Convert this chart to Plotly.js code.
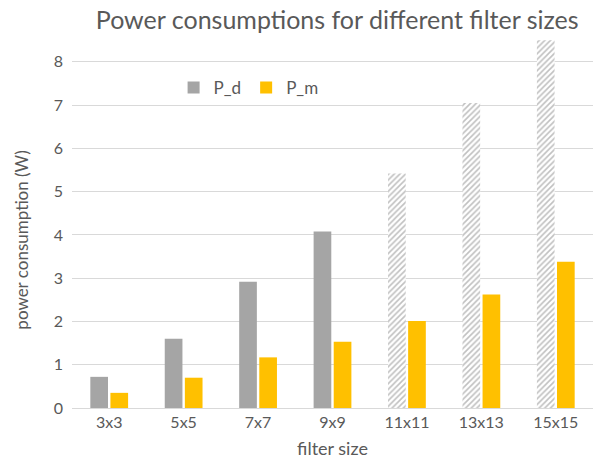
<!DOCTYPE html>
<html>
<head>
<meta charset="utf-8">
<script src="https://cdn.plot.ly/plotly-3.0.1.min.js"></script>
<style>html,body{margin:0;padding:0;background:#fff;}#chart{width:605px;height:460px;}</style>
</head>
<body>
<div id="chart"></div>
<script>
const categories = ["3x3", "5x5", "7x7", "9x9", "11x11", "13x13", "15x15"];
const P_d = [0.72, 1.6, 2.92, 4.08, 5.42, 7.05, 8.5];
const P_m = [0.35, 0.7, 1.17, 1.53, 2.01, 2.62, 3.38];
const P_d_estimated = [false, false, false, false, true, true, true];

const grey = "#a5a5a5";
const gold = "#ffc000";
const textColor = "#595959";
const font = "Lato, 'Open Sans', sans-serif";

const traces = [
  {
    type: "bar", name: "P_d", x: categories, y: P_d,
    marker: {
      color: grey,
      pattern: {
        shape: P_d_estimated.map(e => e ? "/" : ""),
        fgcolor: "#828282",
        bgcolor: "#ffffff",
        size: 4,
        solidity: 0.4,
        fillmode: "overlay"
      }
    }
  },
  { type: "bar", name: "P_m", x: categories, y: P_m, marker: { color: gold } }
];

const layout = {
  width: 605, height: 460,
  margin: { l: 72, r: 12, t: 38, b: 52 },
  paper_bgcolor: "#fff", plot_bgcolor: "#fff",
  font: { family: font, color: textColor, size: 14 },
  title: { text: "Power consumptions for different filter sizes", font: { family: font, size: 25, color: textColor }, x: 0.509, xanchor: "center", xref: "paper", yref: "container", y: 0.955, yanchor: "middle" },
  barmode: "group", bargap: 0.46, bargroupgap: 0.12,
  showlegend: true,
  legend: { orientation: "h", x: 0.195, y: 0.865, xanchor: "left", yanchor: "middle", bgcolor: "rgba(0,0,0,0)", font: { size: 17, color: textColor }, itemwidth: 30, tracegroupgap: 0 },
  xaxis: {
    type: "category", showgrid: false, showline: true, linecolor: "#d9d9d9", linewidth: 1, ticks: "",
    tickfont: { size: 16, color: textColor },
    title: { text: "filter size", font: { size: 18, color: textColor }, standoff: 12 }
  },
  yaxis: {
    range: [0, 8.55], dtick: 1, showgrid: true, gridcolor: "#d9d9d9", gridwidth: 1, zeroline: false, showline: false,
    tickfont: { size: 16, color: textColor }, ticks: "", ticklabelstandoff: 8
  },
  annotations: [{
    text: "power consumption (W)", textangle: -90, showarrow: false,
    xref: "paper", yref: "paper", x: -0.096, y: 0.455, xanchor: "center", yanchor: "middle",
    font: { size: 17, color: textColor, family: font }
  }]
};

Plotly.newPlot("chart", traces, layout, { displayModeBar: false, staticPlot: true });
</script>
</body>
</html>
